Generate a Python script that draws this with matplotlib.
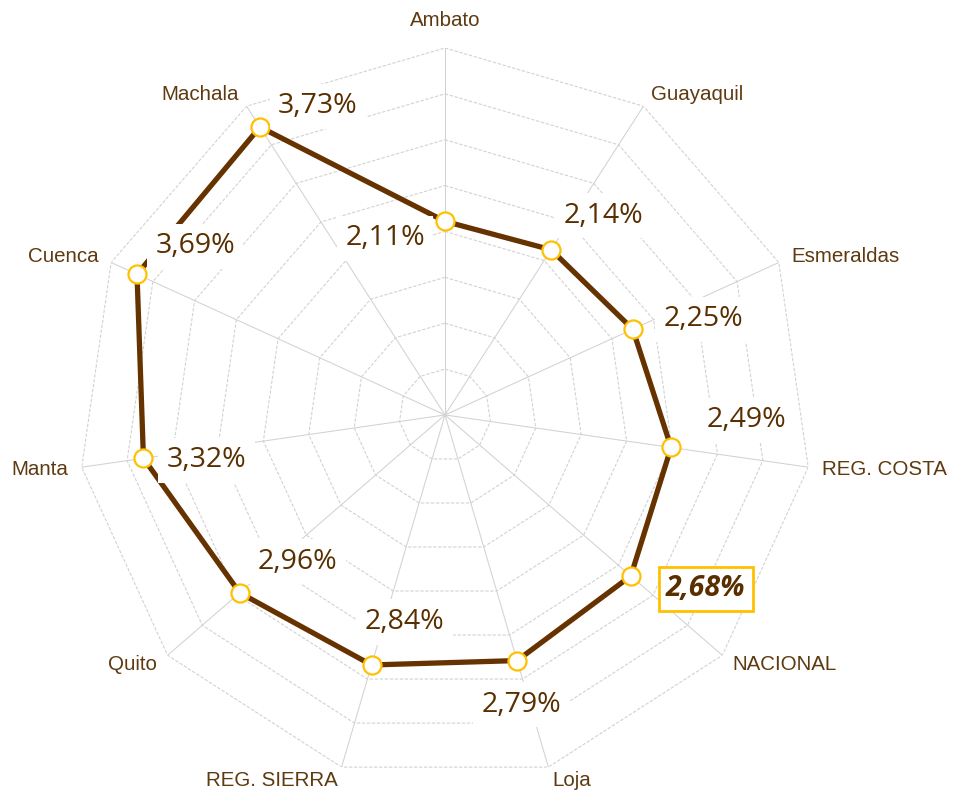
import matplotlib
matplotlib.use('Agg')
import matplotlib.pyplot as plt
import numpy as np

plt.rcParams.update({
    'font.family': ['Liberation Sans', 'DejaVu Sans'],
})

# Data
categories = ['Ambato', 'Guayaquil', 'Esmeraldas', 'REG. COSTA', 'NACIONAL', 'Loja',
              'REG. SIERRA', 'Quito', 'Manta', 'Cuenca', 'Machala']
values = [2.11, 2.14, 2.25, 2.49, 2.68, 2.79, 2.84, 2.96, 3.32, 3.69, 3.73]
rings = [0.5, 1.0, 1.5, 2.0, 2.5, 3.0, 3.5, 4.0]
highlight = 'NACIONAL'

# label offsets in pixels (dx, dy) from each marker
label_offsets = [(-60, -17), (52, 34), (71, 10), (75, 27), (75, -13), (4, -44),
                 (33, 43), (58, 31), (63, -2), (58, 28), (58, 21)]

C_LINE = '#663300'
C_MARK = '#FFC000'
C_TEXT = '#5E3A10'
C_VAL = '#5A2F00'
C_GRID = '#D2D2D2'

n = len(categories)
theta = np.arange(n) * 2 * np.pi / n
theta_c = np.append(theta, theta[0])

fig = plt.figure(figsize=(9.59, 7.95), dpi=100)
ax = fig.add_axes([0.0813, 0.0164, 0.7654, 0.9233], projection='polar')
ax.set_theta_offset(np.pi / 2)
ax.set_theta_direction(-1)
ax.set_ylim(0, 4.0)
ax.set_xticks([])
ax.set_yticks([])
ax.grid(False)
ax.spines['polar'].set_visible(False)
ax.patch.set_alpha(0)

# polygon grid
for r in rings:
    ax.plot(theta_c, [r] * (n + 1), color=C_GRID, lw=0.8, ls=(0, (3, 1.5)), zorder=1)
for t in theta:
    ax.plot([t, t], [0, rings[-1]], color=C_GRID, lw=0.75, zorder=1)

# series
vals_c = values + [values[0]]
ax.plot(theta_c, vals_c, color=C_LINE, lw=3.8, zorder=3)
ax.plot(theta, values, 'o', ms=13, mfc='white', mec=C_MARK, mew=1.6, zorder=4)

# category labels
for t, cat in zip(theta, categories):
    s = np.sin(t)
    if abs(s) < 0.05:
        ha = 'center'
        r = 4.3
    else:
        ha = 'left' if s > 0 else 'right'
        r = 4.15
    ax.text(t, r, cat, ha=ha, va='center', fontsize=14.8, color=C_TEXT, clip_on=False)

# value labels
for t, v, cat, off in zip(theta, values, categories, label_offsets):
    txt = f'{v:.2f}'.replace('.', ',') + '%'
    if cat == highlight:
        ax.annotate(txt, xy=(t, v), xytext=off, textcoords='offset pixels',
                    ha='center', va='center', fontsize=20.5, color=C_VAL,
                    fontweight='bold', fontstyle='italic', family=['Open Sans', 'DejaVu Sans'],
                    bbox=dict(boxstyle='square,pad=0.26', fc='white', ec=C_MARK, lw=2),
                    zorder=6, annotation_clip=False)
    else:
        ax.annotate(txt, xy=(t, v), xytext=off, textcoords='offset pixels',
                    ha='center', va='center', fontsize=20.5, color=C_VAL,
                    family=['Open Sans', 'DejaVu Sans'],
                    bbox=dict(boxstyle='square,pad=0.3', fc='white', ec='none'),
                    zorder=6, annotation_clip=False)

fig.savefig('out.png', dpi=100)
